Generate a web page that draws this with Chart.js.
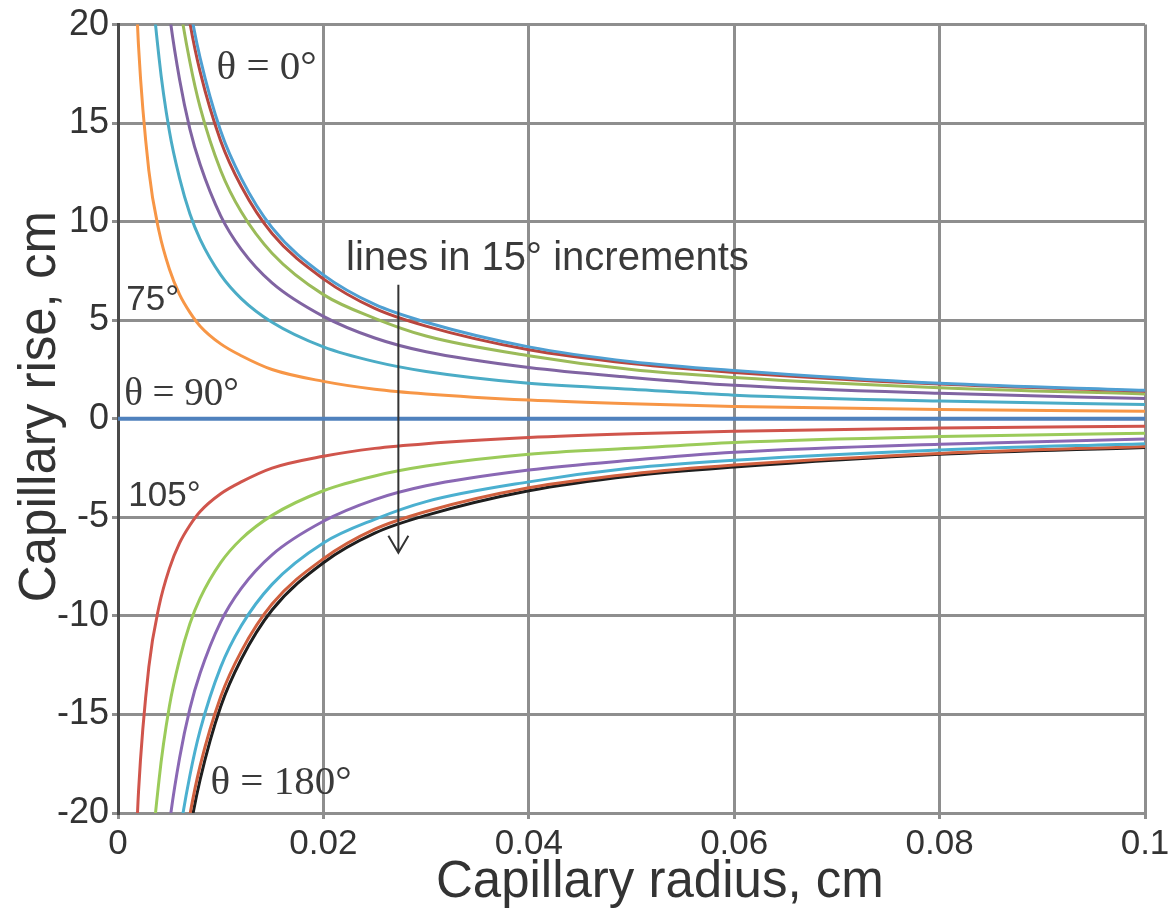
<!DOCTYPE html>
<html>
<head>
<meta charset="utf-8">
<script src="https://cdn.jsdelivr.net/npm/chart.js@4"></script>
<style>
  html, body { margin: 0; padding: 0; background: #fff; }
</style>
</head>
<body>
<canvas id="chart" width="1170" height="918"></canvas>
<script>
// capillary radius, cm (shared x positions of the read-off points)
const radius = [0.0015, 0.002, 0.003, 0.004, 0.005, 0.006, 0.007, 0.008, 0.01, 0.012, 0.015, 0.02, 0.025, 0.03, 0.04, 0.05, 0.06, 0.08, 0.1]

// capillary rise, cm, one list per contact angle
const rise0   = [97, 73, 48.7, 36.5, 29.2, 24.3, 20.9, 18.3, 14.6, 12.2, 9.7, 7.3, 5.8, 4.9, 3.65, 2.9, 2.45, 1.8, 1.45]
const rise15  = [94, 70.5, 47, 35.3, 28.2, 23.5, 20.1, 17.6, 14.1, 11.8, 9.4, 7.1, 5.6, 4.7, 3.5, 2.8, 2.35, 1.76, 1.4]
const rise30  = [84, 63, 42, 31.6, 25.3, 21.1, 18.1, 15.8, 12.6, 10.5, 8.4, 6.3, 5.1, 4.2, 3.2, 2.5, 2.1, 1.58, 1.26]
const rise45  = [69, 51.6, 34.4, 25.8, 20.6, 17.2, 14.7, 12.9, 10.3, 8.6, 6.9, 5.2, 4.1, 3.4, 2.6, 2.1, 1.7, 1.29, 1.03]
const rise60  = [48.7, 36.5, 24.3, 18.3, 14.6, 12.2, 10.4, 9.1, 7.3, 6.1, 4.9, 3.65, 2.9, 2.4, 1.8, 1.5, 1.2, 0.9, 0.73]
const rise75  = [25.2, 18.9, 12.6, 9.5, 7.6, 6.3, 5.4, 4.7, 3.8, 3.2, 2.5, 1.9, 1.5, 1.26, 0.95, 0.76, 0.63, 0.47, 0.38]
const radius90 = [0, 0.1]
const rise90  = [0, 0]
const rise105 = [-25.2, -18.9, -12.6, -9.5, -7.6, -6.3, -5.4, -4.7, -3.8, -3.2, -2.5, -1.9, -1.5, -1.26, -0.95, -0.76, -0.63, -0.47, -0.38]
const rise120 = [-48.7, -36.5, -24.3, -18.3, -14.6, -12.2, -10.4, -9.1, -7.3, -6.1, -4.9, -3.65, -2.9, -2.4, -1.8, -1.5, -1.2, -0.9, -0.73]
const rise135 = [-69, -51.6, -34.4, -25.8, -20.6, -17.2, -14.7, -12.9, -10.3, -8.6, -6.9, -5.2, -4.1, -3.4, -2.6, -2.1, -1.7, -1.29, -1.03]
const rise150 = [-84, -63, -42, -31.6, -25.3, -21.1, -18.1, -15.8, -12.6, -10.5, -8.4, -6.3, -5.1, -4.2, -3.2, -2.5, -2.1, -1.58, -1.26]
const rise165 = [-94, -70.5, -47, -35.3, -28.2, -23.5, -20.1, -17.6, -14.1, -11.8, -9.4, -7.1, -5.6, -4.7, -3.5, -2.8, -2.35, -1.76, -1.4]
const rise180 = [-97, -73, -48.7, -36.5, -29.2, -24.3, -20.9, -18.3, -14.6, -12.2, -9.7, -7.3, -5.8, -4.9, -3.65, -2.9, -2.45, -1.8, -1.45]

const angles = ['0', '15', '30', '45', '60', '75', '90', '105', '120', '135', '150', '165', '180']
const series = [rise0, rise15, rise30, rise45, rise60, rise75, rise90, rise105, rise120, rise135, rise150, rise165, rise180]

const xTicks = [0, 0.02, 0.04, 0.06, 0.08, 0.1]
const yTicks = [-20, -15, -10, -5, 0, 5, 10, 15, 20]

const colors = ['#4f9fd2', '#b8463f', '#9bbb59', '#8064a2', '#4bacc6', '#f79646', '#4f81bd',
                '#d0554c', '#9bcb5a', '#8a68b4', '#4bb0d0', '#d0603f', '#1e1e1e']

const datasets = series.map((vals, i) => {
  const xs = vals === rise90 ? radius90 : radius
  return {
    label: angles[i] + '°',
    data: vals.map((v, j) => ({ x: xs[j], y: v })),
    borderColor: colors[i],
    borderWidth: angles[i] === '90' ? 4 : 3,
    pointRadius: 0,
    cubicInterpolationMode: 'monotone',
    fill: false
  }
})

// text notes and the arrow, placed in data units
const notes = [
  { text: 'θ = 0°', x: 0.0096, y: 17.8, font: '41px "Liberation Serif"' },
  { text: 'lines in 15° increments', x: 0.0222, y: 8.1, font: '40px "Liberation Sans"' },
  { text: '75°', x: 0.0008, y: 6.0, font: '35px "Liberation Sans"' },
  { text: 'θ = 90°', x: 0.0006, y: 1.2, font: '39px "Liberation Serif"' },
  { text: '105°', x: 0.001, y: -3.95, font: '35px "Liberation Sans"' },
  { text: 'θ = 180°', x: 0.009, y: -18.5, font: '41px "Liberation Serif"' }
]

const notesPlugin = {
  id: 'notes',
  afterDatasetsDraw(chart) {
    const { ctx, scales: { x, y } } = chart
    ctx.save()
    ctx.fillStyle = '#3a3a3a'
    ctx.textBaseline = 'middle'
    ctx.textAlign = 'left'
    notes.forEach(n => {
      ctx.font = n.font
      ctx.fillText(n.text, x.getPixelForValue(n.x), y.getPixelForValue(n.y))
    })
    // arrow
    const ax = x.getPixelForValue(0.0273)
    const top = y.getPixelForValue(6.8)
    const bottom = y.getPixelForValue(-6.8)
    ctx.strokeStyle = '#333'
    ctx.lineWidth = 2
    ctx.beginPath()
    ctx.moveTo(ax, top)
    ctx.lineTo(ax, bottom)
    ctx.moveTo(ax - 10, bottom - 17)
    ctx.lineTo(ax, bottom)
    ctx.lineTo(ax + 10, bottom - 17)
    ctx.stroke()
    ctx.restore()
  }
}

new Chart(document.getElementById('chart').getContext('2d'), {
  type: 'line',
  data: { datasets },
  plugins: [notesPlugin],
  options: {
    responsive: false,
    animation: false,
    layout: { padding: { top: 24, right: 25, left: 0, bottom: 0 } },
    plugins: { legend: { display: false }, tooltip: { enabled: false } },
    scales: {
      x: {
        type: 'linear',
        min: 0,
        max: 0.1,
        afterFit: s => { s.height = 105; s.paddingRight = 0; s.paddingLeft = 0 },
        afterBuildTicks: s => { s.ticks = xTicks.map(v => ({ value: v })) },
        ticks: {
          color: '#333',
          font: { family: 'Liberation Sans', size: 35 },
          padding: 4,
          maxRotation: 0,
          callback: v => String(Math.round(v * 100) / 100)
        },
        grid: { color: '#8e8e8e', lineWidth: 3, tickLength: 6 },
        border: { color: '#8e8e8e', width: 3 },
        title: {
          display: true,
          text: '\u00a0\u00a0\u00a0\u00a0Capillary radius, cm',
          color: '#333',
          font: { family: 'Liberation Sans', size: 51 },
          padding: { top: 0, bottom: 4 }
        }
      },
      y: {
        type: 'linear',
        min: -20,
        max: 20,
        afterFit: s => { s.width = 118 },
        afterBuildTicks: s => { s.ticks = yTicks.map(v => ({ value: v })) },
        ticks: {
          color: '#333',
          font: { family: 'Liberation Sans', size: 36 },
          padding: 3
        },
        grid: { color: '#8e8e8e', lineWidth: 3, tickLength: 6 },
        border: { color: '#4a4a4a', width: 3 },
        title: {
          display: true,
          text: '\u00a0\u2009Capillary rise, cm',
          color: '#333',
          font: { family: 'Liberation Sans', size: 51 },
          padding: { top: 10, bottom: 0 }
        }
      }
    }
  }
})
</script>
</body>
</html>
